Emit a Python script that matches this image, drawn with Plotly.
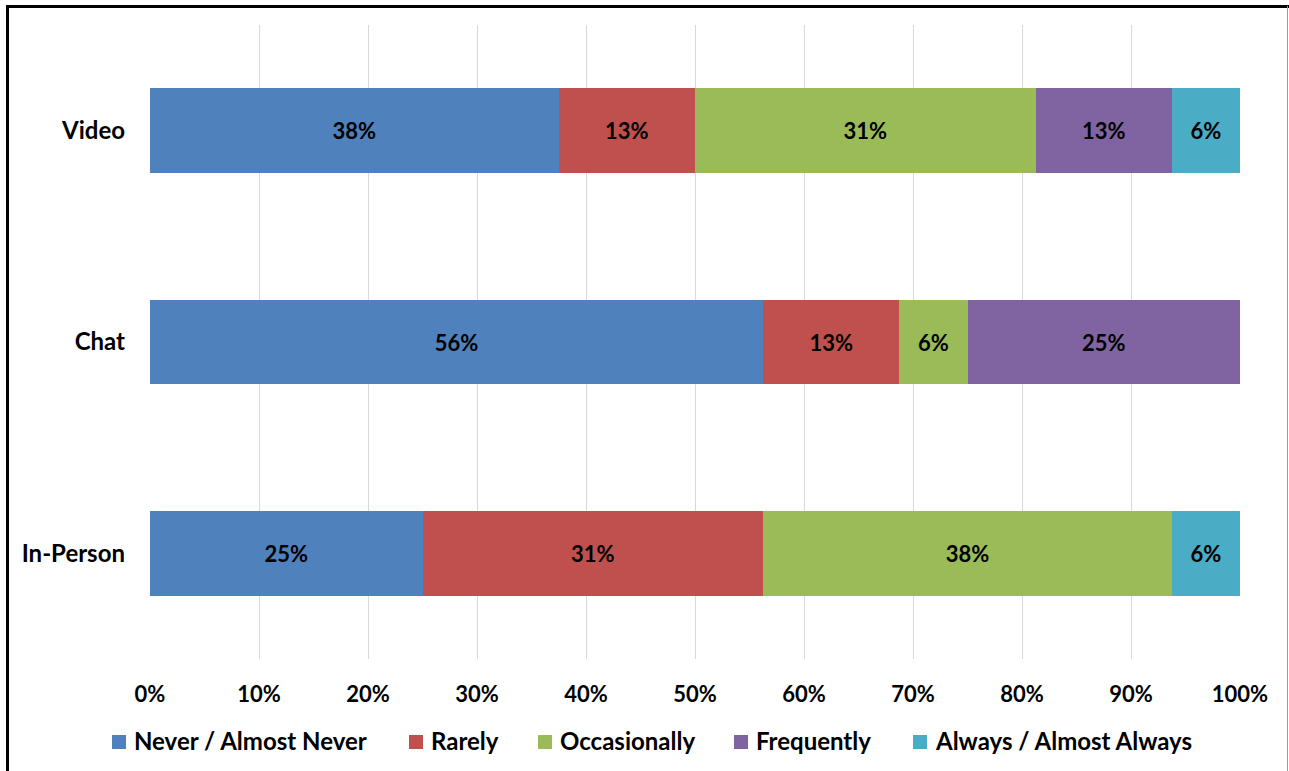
import plotly.graph_objects as go

# Survey responses by meeting format (share of respondents, %)
categories = ["In-Person", "Chat", "Video"]
series_names = [
    "Never / Almost Never",
    "Rarely",
    "Occasionally",
    "Frequently",
    "Always / Almost Always",
]
never_vals = [25.0, 56.25, 37.5]
rarely_vals = [31.25, 12.5, 12.5]
occasionally_vals = [37.5, 6.25, 31.25]
frequently_vals = [0.0, 25.0, 12.5]
always_vals = [6.25, 0.0, 6.25]
x_tick_vals = [0, 10, 20, 30, 40, 50, 60, 70, 80, 90, 100]
x_tick_text = [f"{v}%" for v in x_tick_vals]

series_vals = [never_vals, rarely_vals, occasionally_vals, frequently_vals, always_vals]
colors = ["#4F81BD", "#C0504D", "#9BBB59", "#8064A2", "#4BACC6"]

FONT = "Lato"

fig = go.Figure()
for name, vals, color in zip(series_names, series_vals, colors):
    fig.add_trace(
        go.Bar(
            y=categories,
            x=vals,
            name=name,
            orientation="h",
            marker=dict(color=color, line=dict(width=0)),
            texttemplate=[f"{round(v + 1e-9):.0f}%" if v > 0 else "" for v in vals],
            textposition="inside",
            insidetextanchor="middle",
            constraintext="none",
            textfont=dict(family=FONT, size=22, color="#000000", weight="bold"),
            showlegend=False,
        )
    )

W, H = 1289, 771
ml, mr, mt, mb = 150, 49, 25, 112
pw = W - ml - mr
ph = H - mt - mb


def px_x(px):
    return (px - ml) / pw


def px_y(py):
    return (H - mb - py) / ph


# Legend row drawn along the bottom: colour key square followed by its label
legend_left = [112, 409, 538, 734, 913]
key_size = 14
key_top = 735
legend_shapes = []
legend_notes = []
for left, name, color in zip(legend_left, series_names, colors):
    legend_shapes.append(
        dict(type="rect", xref="paper", yref="paper",
             x0=px_x(left), x1=px_x(left + key_size),
             y0=px_y(key_top + key_size), y1=px_y(key_top),
             fillcolor=color, line=dict(width=0))
    )
    legend_notes.append(
        dict(text=name, xref="paper", yref="paper",
             x=px_x(left + 20), y=px_y(740),
             xanchor="left", yanchor="middle", showarrow=False,
             font=dict(family=FONT, size=24, color="#000000", weight="bold"))
    )

frame = [
    # outer frame: heavy left and top edges, thin grey right edge
    dict(type="line", xref="paper", yref="paper",
         x0=px_x(7.5), x1=px_x(7.5), y0=px_y(5), y1=px_y(771),
         line=dict(color="#000000", width=3)),
    dict(type="line", xref="paper", yref="paper",
         x0=px_x(6), x1=px_x(1289), y0=px_y(6.5), y1=px_y(6.5),
         line=dict(color="#000000", width=3)),
    dict(type="line", xref="paper", yref="paper",
         x0=px_x(1287.5), x1=px_x(1287.5), y0=px_y(6), y1=px_y(771),
         line=dict(color="#9A9A9A", width=1)),
]

fig.update_layout(
    barmode="stack",
    bargap=0.6,
    width=W,
    height=H,
    margin=dict(l=ml, r=mr, t=mt, b=mb),
    paper_bgcolor="white",
    plot_bgcolor="white",
    font=dict(family=FONT, color="#000000"),
    showlegend=False,
    xaxis=dict(
        range=[0, 100],
        tickvals=x_tick_vals,
        ticktext=x_tick_text,
        showgrid=True,
        gridcolor="#D9D9D9",
        gridwidth=1,
        zeroline=False,
        showline=False,
        ticks="",
        ticklabelstandoff=20,
        tickfont=dict(family=FONT, size=22, color="#000000", weight="bold"),
        fixedrange=True,
    ),
    yaxis=dict(
        showgrid=False,
        zeroline=False,
        showline=False,
        ticks="",
        ticklabelstandoff=24,
        tickfont=dict(family=FONT, size=24, color="#000000", weight="bold"),
        fixedrange=True,
    ),
    shapes=frame + legend_shapes,
    annotations=legend_notes,
)

fig.write_html("out.html")
